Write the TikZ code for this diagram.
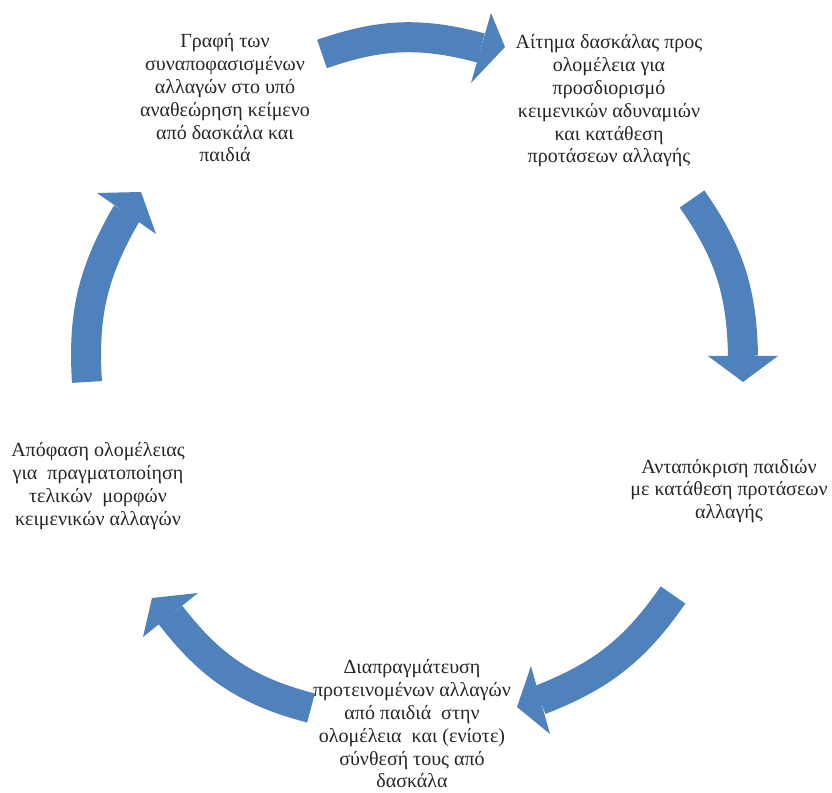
\documentclass[tikz,border=0pt]{standalone}
\usepackage{fontspec}
\setmainfont{Liberation Serif}
\definecolor{cycleblue}{RGB}{79,129,189}
\begin{document}
\begin{tikzpicture}[x=0.5pt,y=0.5pt,
  stage/.style={align=center, font=\fontsize{10}{11.4}\selectfont, text=black!85},
  band/.style={draw=cycleblue, line width=15pt},
  head/.style={fill=cycleblue}]
\useasboundingbox (0,0) rectangle (832,793);
% the five stages
\node[stage] (grafi) at (225,695) {Γραφή των\\ συναποφασισμένων\\ αλλαγών στο υπό\\ αναθεώρηση κείμενο\\ από δασκάλα και\\ παιδιά};
\node[stage] (aitima) at (609,692) {Αίτημα δασκάλας προς\\ ολομέλεια για\\ προσδιορισμό\\ κειμενικών αδυναμιών\\ και κατάθεση\\ προτάσεων αλλαγής};
\node[stage] (antapokrisi) at (729,302) {Ανταπόκριση παιδιών\\ με κατάθεση προτάσεων\\ αλλαγής};
\node[stage] (diapragm) at (412,69) {Διαπραγμάτευση\\ προτεινομένων αλλαγών\\ από παιδιά~ στην\\ ολομέλεια~ και (ενίοτε)\\ σύνθεσή τους από\\ δασκάλα};
\node[stage] (apofasi) at (98,307) {Απόφαση ολομέλειας\\ για~ πραγματοποίηση\\ τελικών~ μορφών\\ κειμενικών αλλαγών};
% curved block arrows round the cycle
\draw[band] (322,739) to[bend left=17] (481,745);
\fill[head] (491,780) -- (505,746) -- (471,710) -- cycle;
\draw[band] (692,594) to[bend left=17] (743,437);
\fill[head] (708,437) -- (743,411) -- (778,437) -- cycle;
\draw[band] (673,198) to[bend left=17] (540,93);
\fill[head] (531,127) -- (517,86) -- (550,59) -- cycle;
\draw[band] (311,85) to[bend left=19] (170.5,178);
\fill[head] (198,200) -- (152,195) -- (143,156) -- cycle;
\draw[band] (87,411) to[bend left=17] (127,580);
\fill[head] (97,600) -- (141,601) -- (156,559) -- cycle;
\end{tikzpicture}
\end{document}
